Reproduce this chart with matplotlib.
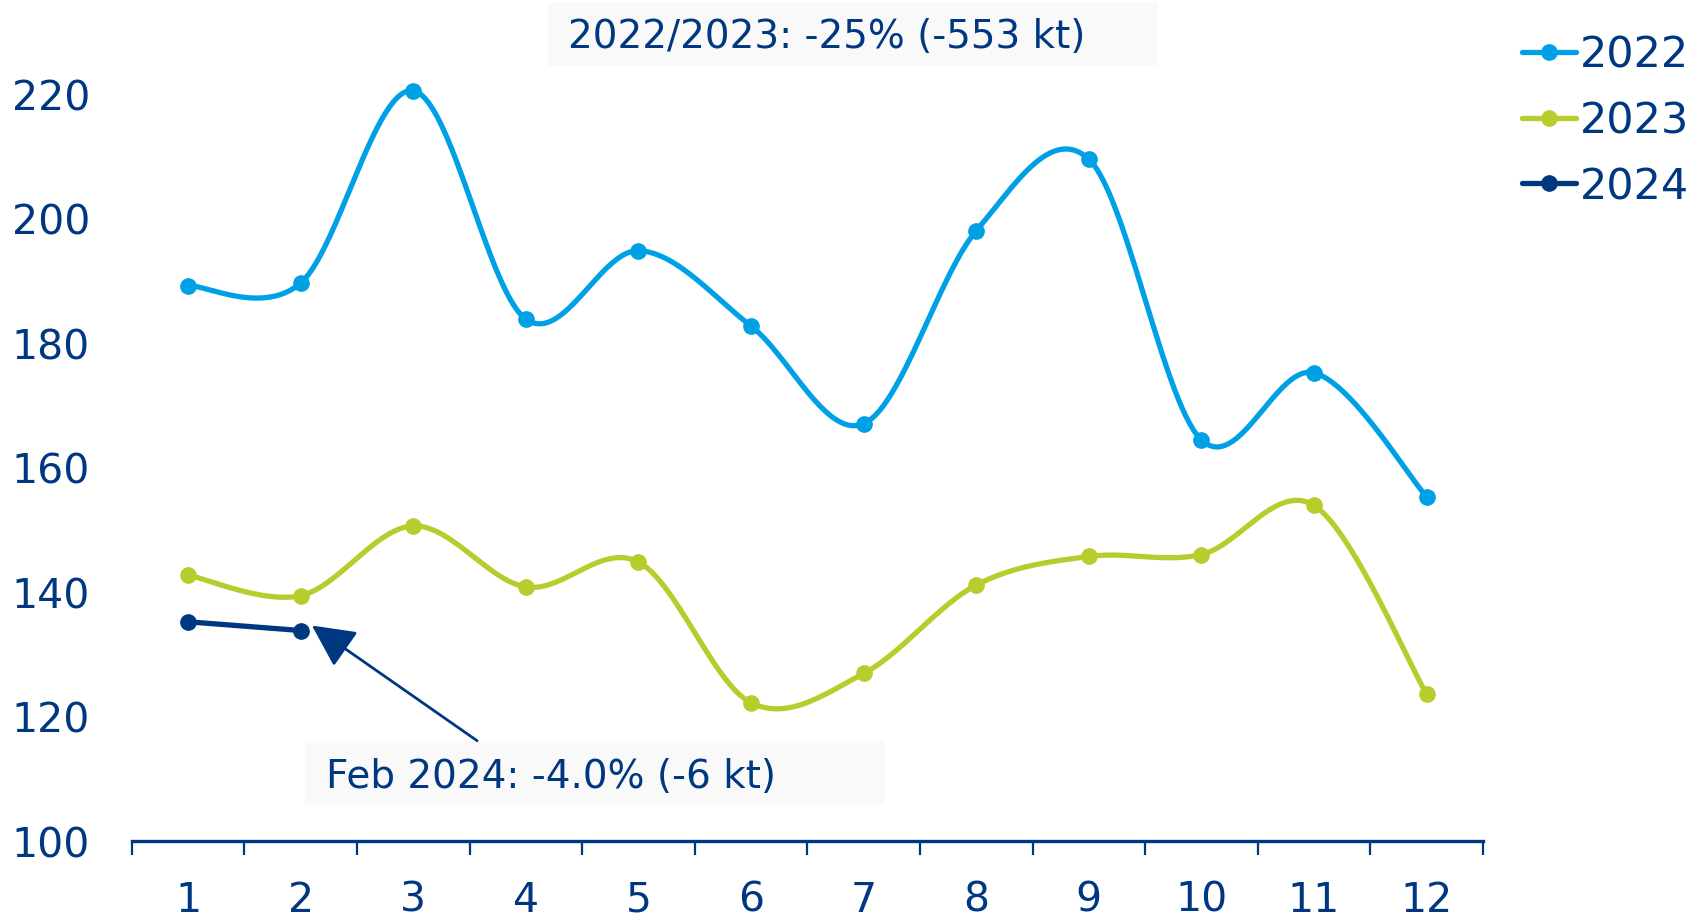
import numpy as np
import matplotlib
matplotlib.use("Agg")
import matplotlib.pyplot as plt
from matplotlib.patches import Rectangle

# ---------------------------------------------------
# DATA (kt per month)
# ---------------------------------------------------
months = [1, 2, 3, 4, 5, 6, 7, 8, 9, 10, 11, 12]
vals_2022 = [189.2, 189.6, 220.5, 183.8, 194.8, 182.7, 167.0, 198.0, 209.5, 164.4, 175.2, 155.3]
vals_2023 = [142.7, 139.4, 150.6, 140.8, 144.8, 122.2, 126.9, 141.1, 145.7, 146.0, 153.9, 123.6]
months_2024 = [1, 2]
vals_2024 = [135.2, 133.8]
y_ticks = [100, 120, 140, 160, 180, 200, 220]

note_top = "2022/2023: -25% (-553 kt)"
note_feb = "Feb 2024: -4.0% (-6 kt)"

NAVY = "#003781"
BLUE = "#00A0E6"
LIME = "#B8CC2E"
FS = 29.5
LW = 3.8
MS = 11


def smooth(x, y, n=30):
    # Catmull-Rom curve through the points (like Excel's "smoothed line")
    x = np.asarray(x, float)
    y = np.asarray(y, float)
    if len(x) < 3:
        return x, y
    px = np.concatenate([[x[0]], x, [x[-1]]])
    py = np.concatenate([[y[0]], y, [y[-1]]])
    xs, ys = [], []
    t = np.linspace(0, 1, n)
    for i in range(1, len(px) - 2):
        p0, p1, p2, p3 = (np.array([px[j], py[j]]) for j in (i - 1, i, i + 1, i + 2))
        c1 = p1 + (p2 - p0) / 6
        c2 = p2 - (p3 - p1) / 6
        b = ((1 - t) ** 3)[:, None] * p1 + (3 * (1 - t) ** 2 * t)[:, None] * c1 \
            + (3 * (1 - t) * t ** 2)[:, None] * c2 + (t ** 3)[:, None] * p2
        xs.append(b[:, 0])
        ys.append(b[:, 1])
    return np.concatenate(xs), np.concatenate(ys)


plt.rcParams['font.family'] = ['DejaVu Sans']

fig = plt.figure(figsize=(17.07, 9.2), dpi=100)
ax = fig.add_axes([0.0772, 0.0848, 0.7915, 0.8122])
ax.patch.set_visible(False)

series = [("2022", months, vals_2022, BLUE),
          ("2023", months, vals_2023, LIME),
          ("2024", months_2024, vals_2024, NAVY)]
for name, xs, ys, col in series:
    sx, sy = smooth(xs, ys)
    ax.plot(sx, sy, color=col, lw=LW, solid_capstyle='round', clip_on=False, zorder=3)
    ax.plot(xs, ys, 'o', color=col, ms=MS, clip_on=False, zorder=4)
    # legend proxy
    ax.plot([], [], color=col, lw=LW, marker='o', ms=MS, solid_capstyle='round', label=name)

ax.set_xlim(0.5, 12.5)
ax.set_ylim(100, 220)
ax.set_yticks(y_ticks)
ax.set_xticks(np.arange(0.5, 13, 1))
ax.set_xticklabels([])
ax.set_xticks(months, minor=True)
ax.set_xticklabels([str(m) for m in months], minor=True)

for s in ['top', 'right', 'left']:
    ax.spines[s].set_visible(False)
ax.spines['bottom'].set_color(NAVY)
ax.spines['bottom'].set_linewidth(2.4)

ax.tick_params(axis='y', length=0, pad=30, labelsize=FS, labelcolor=NAVY)
ax.tick_params(axis='x', which='major', length=10, width=1.6, color=NAVY, direction='out')
ax.tick_params(axis='x', which='minor', length=0, pad=28, labelsize=FS, labelcolor=NAVY)

leg = ax.legend(loc='upper left', bbox_to_anchor=(0.8916, 0.962), bbox_transform=fig.transFigure,
                frameon=False, fontsize=31, handlelength=1.25, handletextpad=0.1,
                borderpad=0, borderaxespad=0, labelspacing=0.55)
for t in leg.get_texts():
    t.set_color(NAVY)

# note boxes
W, H = 1707, 920
fig.add_artist(Rectangle((548 / W, 1 - 67 / H), 609 / W, 64 / H, transform=fig.transFigure,
                         facecolor="#F9F9F9", edgecolor='none', zorder=0))
fig.text(568 / W, 1 - 37 / H, note_top, fontsize=28, color=NAVY, va='center', ha='left')

fig.add_artist(Rectangle((305 / W, 1 - 806 / H), 580 / W, 64 / H, transform=fig.transFigure,
                         facecolor="#F9F9F9", edgecolor='none', zorder=0))
fig.text(326 / W, 1 - 777 / H, note_feb, fontsize=28, color=NAVY, va='center', ha='left')

ax.annotate("", xy=(2.1, 134.6), xytext=(3.567, 116.1),
            arrowprops=dict(arrowstyle='-|>,head_length=1.2,head_width=0.6', mutation_scale=22,
                            color=NAVY, lw=2, shrinkA=0, shrinkB=0))

fig.savefig("out.png", dpi=100)
